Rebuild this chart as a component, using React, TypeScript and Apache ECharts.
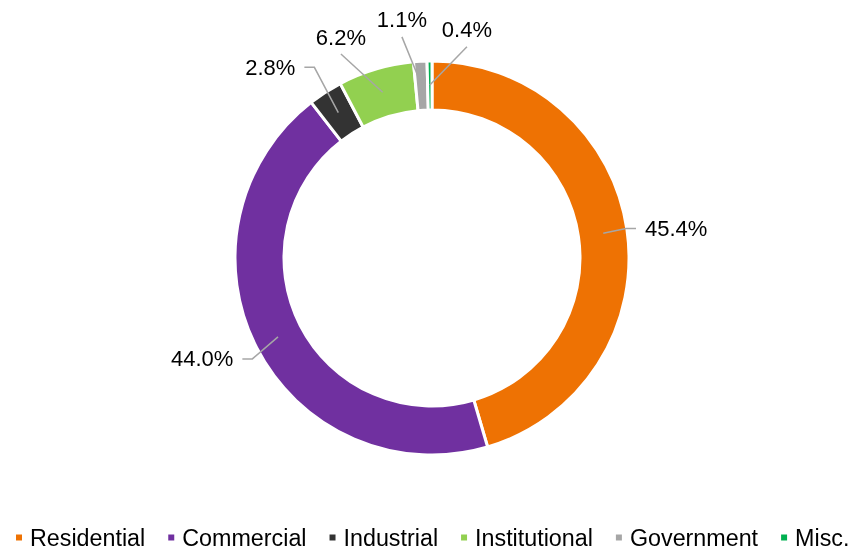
import React, { useEffect, useRef } from "react";
import * as echarts from "echarts";

const categories = ["Residential", "Commercial", "Industrial", "Institutional", "Government", "Misc."];
const shares = [45.4, 44.0, 2.8, 6.2, 1.1, 0.4];
const colors = ["#EE7203", "#7030A0", "#333333", "#92D050", "#A6A6A6", "#00B050"];

// label placement (style): [angle from 12 o'clock clockwise in degrees, distance from centre in px]
const labelPolar: [number, number][] = [
  [83.1, 246],
  [246.3, 251],
  [319.7, 250],
  [337.6, 239],
  [352.8, 240],
  [8.7, 231],
];

const CX = 432;
const CY = 258;
const FONT = "Liberation Sans, Arial, sans-serif";

export default function App() {
  const ref = useRef<HTMLDivElement>(null);
  useEffect(() => {
    if (!ref.current) return;
    const chart = echarts.init(ref.current, undefined, { renderer: "svg" });
    const data = categories.map((name, i) => ({ name, value: shares[i], itemStyle: { color: colors[i] } }));

    const labelLayout = (params: any) => {
      const i = params.dataIndex;
      const [deg, r] = labelPolar[i];
      const a = (deg * Math.PI) / 180;
      const cx = CX + r * Math.sin(a);
      const cy = CY - r * Math.cos(a);
      const w = params.labelRect.width;
      const start = params.labelLinePoints ? params.labelLinePoints[0] : [cx, cy];
      const [sx, sy] = start;
      const left = cx - w / 2;
      const right = cx + w / 2;
      const top = cy - 12;
      const bottom = cy + 12;
      let hgap: number;
      let side: number;
      if (sx > right) {
        hgap = sx - right;
        side = 1;
      } else if (sx < left) {
        hgap = left - sx;
        side = -1;
      } else {
        hgap = -1;
        side = 0;
      }
      const vgap = sy > bottom ? sy - bottom : sy < top ? top - sy : -1;
      let pts: number[][];
      if (side === 0 || (sy > bottom && vgap > hgap)) {
        pts = [[sx, sy], [cx, cy + 17]];
      } else {
        const edge = side > 0 ? right + 9 : left - 9;
        pts = [[sx, sy], [edge + side * 10, cy], [edge, cy]];
      }
      return { x: cx, y: cy, align: "center", verticalAlign: "middle", labelLinePoints: pts };
    };

    chart.setOption({
      animation: false,
      textStyle: { fontFamily: FONT },
      legend: {
        top: 526,
        left: 14,
        width: 843,
        padding: 0,
        icon: "rect",
        itemWidth: 8,
        itemHeight: 8,
        itemGap: 21,
        textStyle: { fontSize: 23.3, color: "#000", fontFamily: FONT, padding: [0, 0, 0, 2] },
        data: categories,
      },
      series: [
        {
          type: "pie",
          center: [CX, CY],
          radius: [148, 197],
          startAngle: 90,
          clockwise: true,
          avoidLabelOverlap: false,
          label: { show: false },
          labelLine: { show: false },
          itemStyle: { borderColor: "#fff", borderWidth: 3 },
          emphasis: { disabled: true },
          data,
        },
        {
          type: "pie",
          center: [CX, CY],
          radius: [0, 173],
          startAngle: 90,
          clockwise: true,
          silent: true,
          z: 5,
          legendHoverLink: false,
          avoidLabelOverlap: false,
          itemStyle: { color: "rgba(0,0,0,0)", borderWidth: 0 },
          label: {
            show: true,
            position: "outside",
            formatter: (p: any) => p.value.toFixed(1) + "%",
            fontSize: 22,
            color: "#000",
            fontFamily: FONT,
          },
          labelLine: { show: true, length: 20, length2: 10, lineStyle: { color: "#A6A6A6", width: 1.5 } },
          labelLayout,
          emphasis: { disabled: true },
          data: categories.map((name, i) => ({ name, value: shares[i] })),
        },
      ],
    });
    return () => chart.dispose();
  }, []);
  return <div ref={ref} style={{ position: "fixed", left: 0, top: 0, width: 857, height: 550 }} />;
}
